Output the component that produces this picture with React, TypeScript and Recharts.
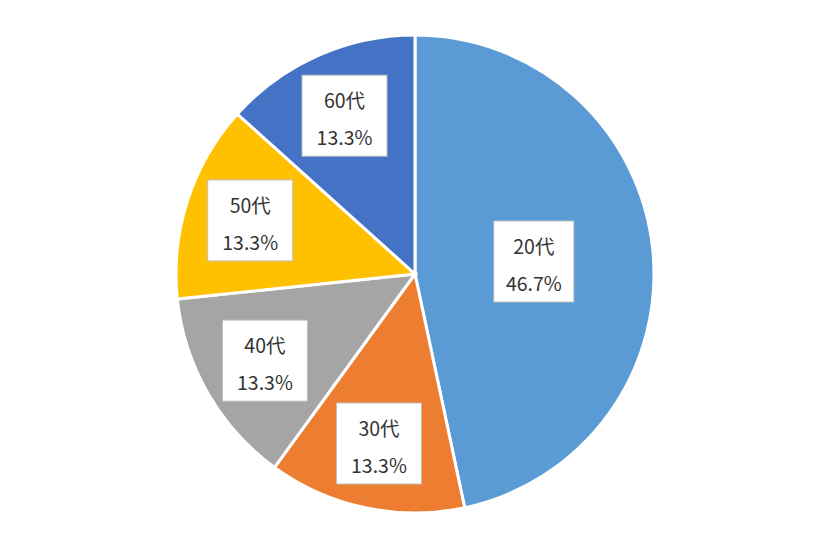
import { Cell, Pie, PieChart } from "recharts";

const ageGroups = ["20代", "30代", "40代", "50代", "60代"];
const counts = [7, 2, 2, 2, 2];
const sliceColors = ["#5B9BD5", "#ED7D31", "#A5A5A5", "#FFC000", "#4472C4"];

const chartData = ageGroups.map((name, i) => ({ name, value: counts[i] }));

const RADIAN = Math.PI / 180;

function renderLabel(props: any) {
  const { cx, cy, midAngle, outerRadius, percent, name } = props;
  // big slice gets its label nearer the centre, like Excel's best fit
  const big = percent > 0.3;
  const r = outerRadius * (big ? 0.5 : 0.725);
  const x = cx + r * Math.cos(-midAngle * RADIAN);
  const y = cy + r * Math.sin(-midAngle * RADIAN);
  const w = big ? 80 : 85;
  const h = 81;
  return (
    <g>
      <rect
        x={x - w / 2}
        y={y - h / 2}
        width={w}
        height={h}
        fill="#ffffff"
        stroke="#bfbfbf"
        strokeWidth={1}
      />
      <text
        x={x}
        y={y - 16}
        textAnchor="middle"
        dominantBaseline="central"
        fill="#333333"
        fontSize={19.5}
        fontFamily="'Noto Sans CJK JP', 'Noto Sans', sans-serif"
      >
        {name}
      </text>
      <text
        x={x}
        y={y + 21}
        textAnchor="middle"
        dominantBaseline="central"
        fill="#333333"
        fontSize={19.5}
        fontFamily="'Noto Sans CJK JP', 'Noto Sans', sans-serif"
      >
        {(percent * 100).toFixed(1)}%
      </text>
    </g>
  );
}

export default function App() {
  return (
    <div style={{ margin: -8, width: 840, height: 552, background: "#ffffff" }}>
      <PieChart
        width={840}
        height={552}
        margin={{ top: 0, right: 0, bottom: 0, left: 0 }}
      >
        <Pie
          data={chartData}
          dataKey="value"
          nameKey="name"
          cx={415}
          cy={274}
          outerRadius={239}
          startAngle={90}
          endAngle={-270}
          stroke="#ffffff"
          strokeWidth={3}
          label={renderLabel}
          labelLine={false}
          isAnimationActive={false}
        >
          {chartData.map((d, i) => (
            <Cell key={d.name} fill={sliceColors[i]} />
          ))}
        </Pie>
      </PieChart>
    </div>
  );
}
